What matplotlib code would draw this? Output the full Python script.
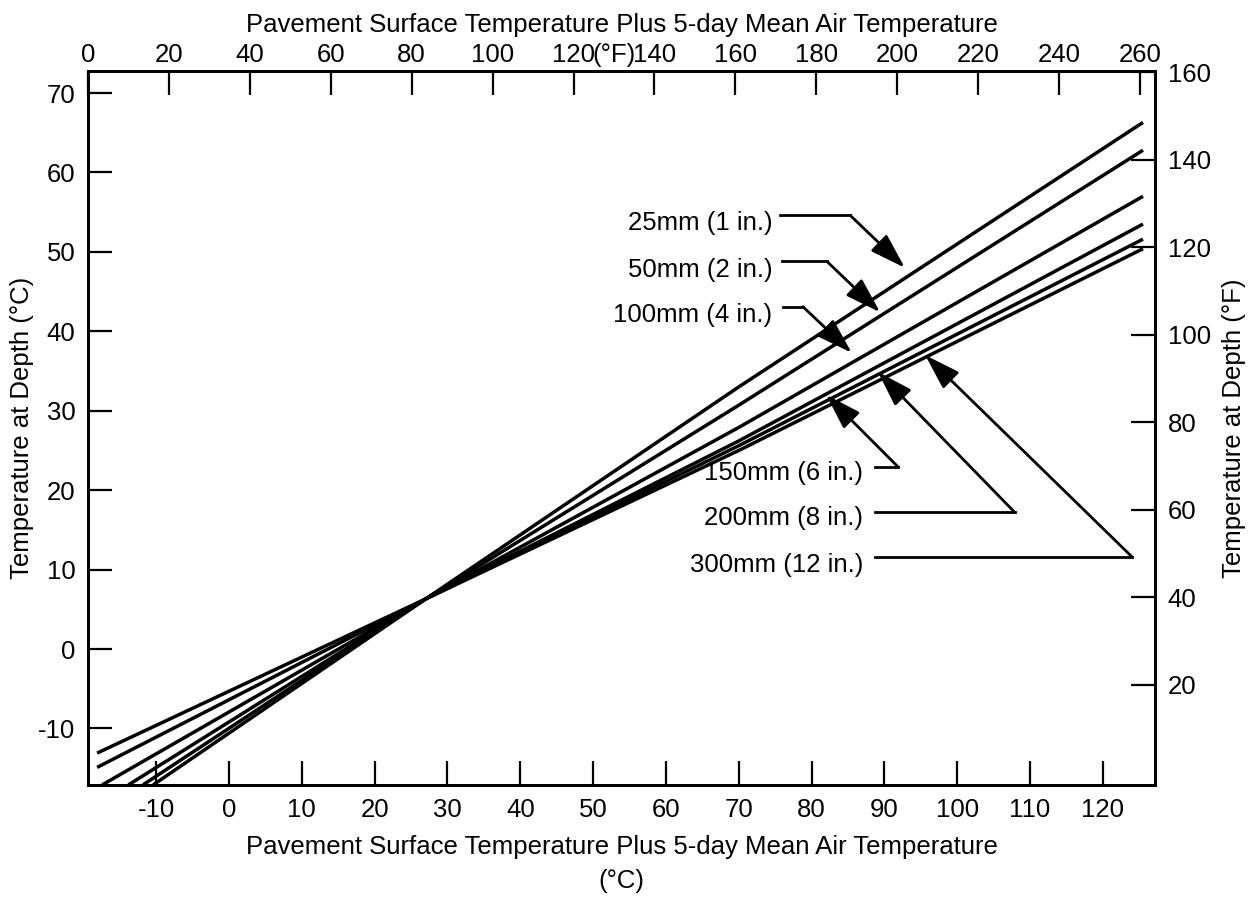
import numpy as np
import matplotlib
matplotlib.use("Agg")
from matplotlib import pyplot as plt

plt.rcParams['font.family'] = ['Liberation Sans', 'DejaVu Sans']
plt.rcParams['font.size'] = 18.5
plt.rcParams['axes.unicode_minus'] = False

# depth curves (deg C surface+air vs deg C at depth)
labels = ["25mm (1 in.)", "50mm (2 in.)", "100mm (4 in.)",
          "150mm (6 in.)", "200mm (8 in.)", "300mm (12 in.)"]
x_25 = [-10.4, 27, 70, 125.5]
y_25 = [-17.1, 6.3, 33.0, 66.3]
x_50 = [-11.8, 27, 70, 125.5]
y_50 = [-17.1, 6.3, 30.7, 62.8]
x_100 = [-13.8, 27, 70, 125.5]
y_100 = [-17.1, 6.3, 27.9, 57.0]
x_150 = [-17.4, 27, 70, 125.5]
y_150 = [-17.1, 6.3, 26.2, 53.5]
x_200 = [-18.1, 27, 70, 125.5]
y_200 = [-14.9, 6.3, 25.6, 51.6]
x_300 = [-18.1, 27, 70, 125.5]
y_300 = [-13.1, 6.3, 25.0, 50.4]

xticks_c = np.arange(-10, 121, 10)
yticks_c = np.arange(-10, 71, 10)
xticks_f = np.arange(0, 261, 20)
yticks_f = np.arange(20, 161, 20)

# label text position, leader start, elbow, arrow tip
lab_txt = [(74.6, 53.6), (74.6, 47.7), (74.6, 42.0),
           (87.1, 22.2), (87.1, 16.5), (87.1, 10.6)]
lab_start = [(75.7, 54.6), (75.9, 48.8), (76.1, 43.1),
             (88.7, 22.9), (88.7, 17.2), (88.7, 11.6)]
lab_elbow = [(85.3, 54.6), (82.1, 48.8), (78.8, 43.1),
             (91.9, 22.9), (107.9, 17.2), (124.0, 11.6)]
lab_tip = [(92.8, 48.0), (89.4, 42.4), (85.5, 37.3),
           (82.0, 32.0), (89.1, 34.9), (95.6, 37.0)]

fig = plt.figure(figsize=(12.53, 8.99), dpi=100)
ax = fig.add_axes([0.0702, 0.1268, 0.8516, 0.7942])

xs = [x_25, x_50, x_100, x_150, x_200, x_300]
ys = [y_25, y_50, y_100, y_150, y_200, y_300]
for xx, yy in zip(xs, ys):
    ax.plot(xx, yy, '-', c='black', linewidth=2.5, solid_capstyle='butt')

for i in range(len(labels)):
    ax.text(lab_txt[i][0], lab_txt[i][1], labels[i], ha='right', va='center')
    ax.plot([lab_start[i][0], lab_elbow[i][0]], [lab_start[i][1], lab_elbow[i][1]],
            c='black', linewidth=2)
    ax.annotate('', xy=lab_tip[i], xytext=lab_elbow[i],
                arrowprops=dict(arrowstyle='-|>,head_length=1.1,head_width=0.35',
                                mutation_scale=20, color='black', lw=2,
                                shrinkA=0, shrinkB=0))

ax.set_xlim(-19.36, 127.15)
ax.set_ylim(-17.12, 72.77)
ax.set_xticks(xticks_c)
ax.set_yticks(yticks_c)
ax.tick_params(direction='in', length=17, width=1.6, pad=9)
ax.set_xlabel('Pavement Surface Temperature Plus 5-day Mean Air Temperature\n(°C)',
              labelpad=10, linespacing=1.5)
ax.set_ylabel('Temperature at Depth (°C)', labelpad=3)

axt = ax.twiny()
axt.set_xlim(0.25, 263.7)
axt.set_xticks(xticks_f)
axt.tick_params(direction='in', length=17, width=1.6, pad=3)
axt.set_xlabel('Pavement Surface Temperature Plus 5-day Mean Air Temperature',
               labelpad=8)
axt.annotate('(°F)', xy=(130, 1.0), xycoords=axt.get_xaxis_transform(),
             xytext=(0, 3), textcoords='offset points', ha='center', va='bottom')

axr = ax.twinx()
axr.set_ylim(-2.86, 160.3)
axr.set_yticks(yticks_f)
axr.tick_params(direction='in', length=17, width=1.6, pad=9)
axr.set_ylabel('Temperature at Depth (°F)', labelpad=8)

for a in (ax, axt, axr):
    for s in a.spines.values():
        s.set_linewidth(2)

fig.savefig('out.png', dpi=100)
